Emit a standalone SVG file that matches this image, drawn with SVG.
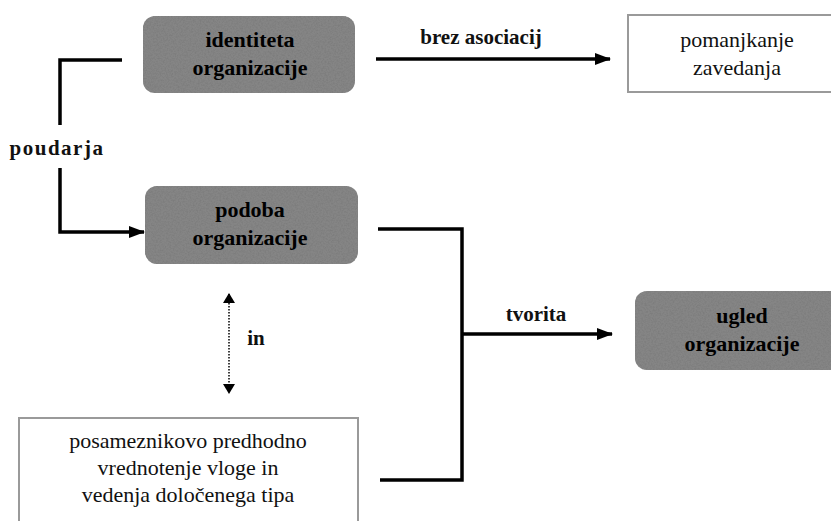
<svg xmlns="http://www.w3.org/2000/svg" width="831" height="521" viewBox="0 0 831 521" font-family="'Liberation Serif', 'DejaVu Serif', serif">
<defs>
<filter id="grain" x="0" y="0" width="100%" height="100%" filterUnits="objectBoundingBox">
<feTurbulence type="fractalNoise" baseFrequency="0.6" numOctaves="3" seed="7" result="n"/>
<feColorMatrix in="n" type="matrix" values="0 0 0 0 0.2  0 0 0 0 0.2  0 0 0 0 0.2  2.2 0 0 0 -0.85" result="dark"/>
<feComposite in="dark" in2="SourceGraphic" operator="in" result="d2"/>
<feMerge><feMergeNode in="SourceGraphic"/><feMergeNode in="d2"/></feMerge>
</filter>
<marker id="ah" viewBox="0 0 16 12" refX="15" refY="6" markerWidth="16" markerHeight="12" markerUnits="userSpaceOnUse" orient="auto">
<path d="M0,0 L16,6 L0,12 Z" fill="#000"/>
</marker>
<marker id="ahs" viewBox="0 0 10 12" refX="9" refY="6" markerWidth="10" markerHeight="12" markerUnits="userSpaceOnUse" orient="auto-start-reverse">
<path d="M0,0 L10,6 L0,12 Z" fill="#000"/>
</marker>
</defs>
<style>
.gray{fill:#858585}
.white{fill:#fff;stroke:#9a9a9a;stroke-width:2}
text{font-size:22px;text-anchor:middle;fill:#111}
.b{font-weight:bold;font-size:21px}
.g{font-weight:bold;fill:#000;font-size:22px}
.c{fill:none;stroke:#000;stroke-width:3.5}
</style>
<rect width="831" height="521" fill="#fff"/>
<g id="identiteta">
<rect class="gray" x="143" y="16" width="212" height="77" rx="12" filter="url(#grain)"/>
<text class="g" x="250" y="47">identiteta</text>
<text class="g" x="250" y="75">organizacije</text>
</g>
<g id="pomanjkanje">
<rect class="white" x="628" y="15" width="210" height="77"/>
<text x="737" y="47">pomanjkanje</text>
<text x="737" y="75">zavedanja</text>
</g>
<g id="podoba">
<rect class="gray" x="145" y="186" width="213" height="78" rx="12" filter="url(#grain)"/>
<text class="g" x="250" y="217">podoba</text>
<text class="g" x="250" y="245">organizacije</text>
</g>
<g id="ugled">
<rect class="gray" x="635" y="291" width="210" height="79" rx="12" filter="url(#grain)"/>
<text class="g" x="742" y="323">ugled</text>
<text class="g" x="742" y="351">organizacije</text>
</g>
<g id="posameznikovo">
<rect class="white" x="19" y="418" width="339" height="110"/>
<text x="188" y="448">posameznikovo predhodno</text>
<text x="188" y="475">vrednotenje vloge in</text>
<text x="188" y="502">vedenja določenega tipa</text>
</g>
<g id="connectors">
<path class="c" d="M376,59 L610,59" marker-end="url(#ah)"/>
<text class="b" x="481" y="44">brez asociacij</text>
<path class="c" d="M122,60 L60,60 L60,125"/>
<text class="b" x="57" y="155" style="letter-spacing:1.5px">poudarja</text>
<path class="c" d="M60,168 L60,232 L144,232" marker-end="url(#ah)"/>
<path fill="none" stroke="#000" stroke-width="1.5" stroke-dasharray="1.5,1.5" d="M229,294 L229,393" marker-start="url(#ahs)" marker-end="url(#ahs)"/>
<text class="b" x="256" y="345">in</text>
<path class="c" d="M378,229 L462,229 L462,480 L380,480"/>
<path class="c" d="M462,334 L612,334" marker-end="url(#ah)"/>
<text class="b" x="536" y="321">tvorita</text>
</g>
</svg>
